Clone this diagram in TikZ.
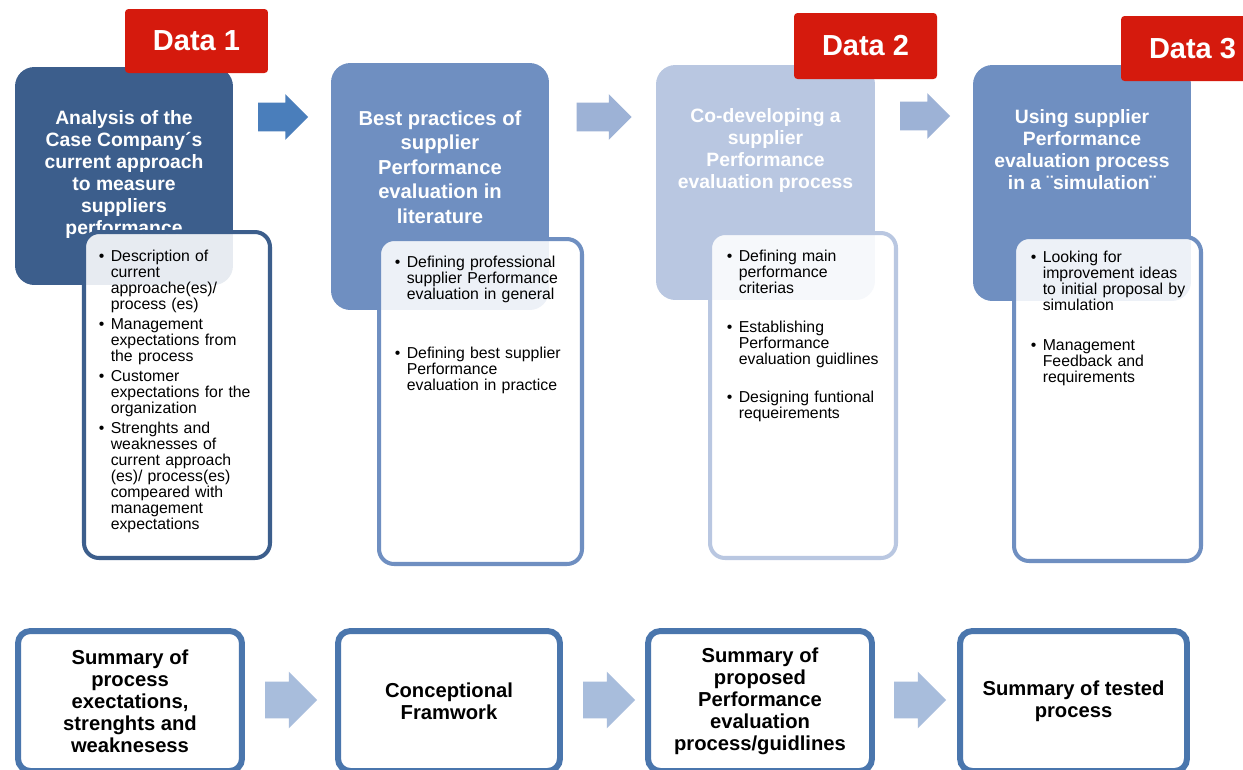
\documentclass[tikz,border=0pt]{standalone}
\usepackage{fontspec}
\setmainfont{Liberation Sans}
\usepackage{tikz}
\usetikzlibrary{shapes.arrows,shadows}
\usepackage{xcolor}

\definecolor{phasedark}{HTML}{3C5E8C}
\definecolor{phasemid}{HTML}{6F8FC1}
\definecolor{phaselight}{HTML}{B9C7E1}
\definecolor{arrowdark}{HTML}{4A7EBB}
\definecolor{arrowlight}{HTML}{9DB2D6}
\definecolor{arrowpale}{HTML}{A8BDDC}
\definecolor{sumframe}{HTML}{4A76AD}
\definecolor{datared}{HTML}{D51A0D}

% one bullet point with hanging lines
\newcommand{\bul}[1]{\hangindent=6.8pt\hangafter=1\makebox[6.8pt][l]{\textbullet}#1\par}

\begin{document}
\begin{tikzpicture}[
  x=0.02cm, y=-0.02cm,
  phase/.style={rounded corners=11pt, minimum width=4.36cm, inner sep=0pt},
  phasetitle/.style={anchor=north, align=center, text=white, inner sep=0pt,
    font=\fontsize{11}{12.5}\selectfont\bfseries},
  taskbox/.style={draw, line width=2.3pt, fill=white, fill opacity=0.88,
    rounded corners=8.5pt, inner sep=0pt},
  tasklist/.style={anchor=north west, text width=3.6cm, inner sep=0pt,
    font=\fontsize{9}{9.1}\selectfont},
  databox/.style={fill=datared, rounded corners=2pt, minimum width=2.86cm,
    text=white, font=\fontsize{16.5}{18}\selectfont\bfseries},
  flow/.style={single arrow, single arrow head extend=0.17cm, inner xsep=0pt,
    inner ysep=0.28cm},
  summary/.style={draw=sumframe, line width=3.4pt, fill=white, rounded corners=7pt,
    minimum height=2.8cm, align=center, font=\fontsize{11.5}{12.5}\selectfont\bfseries,
    drop shadow={opacity=0.2, shadow xshift=1pt, shadow yshift=-1.5pt}}
]
\useasboundingbox[fill=white] (0,0) rectangle (1243,769);

% ==================
% Phase boxes
% ==================
\node[phase, fill=phasedark, minimum height=4.36cm] (p1) at (124,176) {};
\node[phase, fill=phasemid, minimum height=4.94cm] (p2) at (440,186.5) {};
\node[phase, fill=phaselight, minimum width=4.38cm, minimum height=4.7cm] (p3) at (765.5,182.5) {};
\node[phase, fill=phasemid, minimum height=4.72cm] (p4) at (1082,183) {};

\node[phasetitle] (t1) at (124,110) {Analysis of the\\Case Company´s\\current approach\\to measure\\suppliers\\performance};
\node[phasetitle, font=\fontsize{11.5}{13.9}\selectfont\bfseries] (t2) at (440,110.5) {Best practices of\\supplier\\Performance\\evaluation in\\literature};
\node[phasetitle] (t3) at (765.5,108) {Co-developing a\\supplier\\Performance\\evaluation process};
\node[phasetitle] (t4) at (1082,109) {Using supplier\\Performance\\evaluation process\\in a ¨simulation¨};

% ==================
% Data labels
% ==================
\node[databox, minimum height=1.28cm] (d1) at (196.5,41) {Data 1};
\node[databox, minimum height=1.32cm] (d2) at (865.5,46) {Data 2};
\node[databox, minimum height=1.3cm] (d3) at (1192.5,48.5) {Data 3};

% ==================
% Arrows between phases
% ==================
\node[flow, fill=arrowdark, minimum height=1cm] (f12) at (276,117) {};
\node[flow, fill=arrowlight, minimum height=1.1cm] (f23) at (597,117) {};
\node[flow, fill=arrowlight, minimum height=1cm] (f34) at (918,116) {};

% ==================
% Task lists
% ==================
\node[taskbox, draw=phasedark, minimum width=3.72cm, minimum height=6.52cm] (l1) at (177,395) {};
\node[taskbox, draw=phasemid, minimum width=4.06cm, minimum height=6.5cm] (l2) at (480.5,401.5) {};
\node[taskbox, draw=phaselight, minimum width=3.72cm, minimum height=6.5cm] (l3) at (803,395.5) {};
\node[taskbox, draw=phasemid, minimum width=3.74cm, minimum height=6.48cm] (l4) at (1107.5,399) {};

\node[tasklist] (i1) at (98.5,250) {%
  \bul{Description of\newline current\newline approache(es)/\newline process (es)}\vspace{2.3pt}
  \bul{Management\newline expectations from\newline the process}\vspace{2.3pt}
  \bul{Customer\newline expectations for the\newline organization}\vspace{2.3pt}
  \bul{Strenghts and\newline weaknesses of\newline current approach\newline (es)/ process(es)\newline compeared with\newline management\newline expectations}};
\node[tasklist] (i2) at (394.5,256) {%
  \bul{Defining professional\newline supplier Performance\newline evaluation in general}\vspace{24.5pt}
  \bul{Defining best supplier\newline Performance\newline evaluation in practice}};
\node[tasklist] (i3) at (726.5,250) {%
  \bul{Defining main\newline performance\newline criterias}\vspace{13pt}
  \bul{Establishing\newline Performance\newline evaluation guidlines}\vspace{12.5pt}
  \bul{Designing funtional\newline requeirements}};
\node[tasklist] (i4) at (1030.5,251) {%
  \bul{Looking for\newline improvement ideas\newline to initial proposal by\newline simulation}\vspace{13.6pt}
  \bul{Management\newline Feedback and\newline requirements}};

% ==================
% Summaries
% ==================
\node[summary, minimum width=4.48cm] (s1) at (130,701) {Summary of\\process\\exectations,\\strenghts and\\weaknesess};
\node[summary, minimum width=4.44cm] (s2) at (449,701) {Conceptional\\Framwork};
\node[summary, minimum width=4.48cm] (s3) at (760,701) {Summary of\\proposed\\Performance\\evaluation\\process/guidlines};
\node[summary, minimum width=4.54cm] (s4) at (1073.5,701) {Summary of tested\\process};

\node[flow, fill=arrowpale, minimum height=1.04cm, inner ysep=0.36cm, single arrow head extend=0.2cm] (g12) at (282,700) {};
\node[flow, fill=arrowpale, minimum height=1.04cm, inner ysep=0.36cm, single arrow head extend=0.2cm] (g23) at (600,700) {};
\node[flow, fill=arrowpale, minimum height=1.04cm, inner ysep=0.36cm, single arrow head extend=0.2cm] (g34) at (911,700) {};
\end{tikzpicture}
\end{document}
